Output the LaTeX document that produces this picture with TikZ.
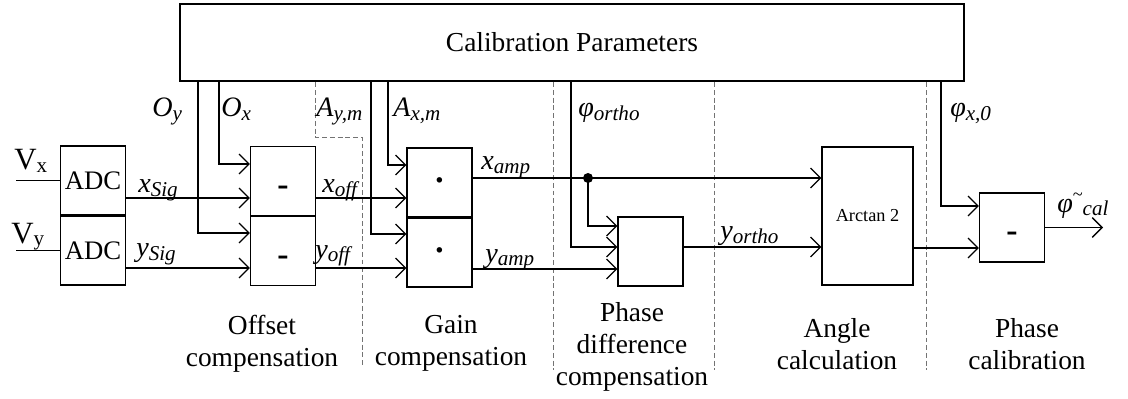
\documentclass[tikz,border=0pt]{standalone}
\usepackage{fontspec}
\setmainfont{Liberation Serif}
\usetikzlibrary{arrows.meta}
\newcommand{\sym}[2]{\textit{#1}\raisebox{-2.5pt}{\fontsize{15}{15}\selectfont\textit{#2}}}
\newcommand{\opsign}[2]{\smash{\raisebox{#1}{#2}}}

\begin{document}
\begin{tikzpicture}[x=0.025cm, y=-0.025cm, line cap=butt, line join=miter,
  blk/.style={draw, line width=1pt, minimum width=1.625cm, minimum height=1.725cm, inner sep=0pt},
  opblk/.style={blk, font=\fontsize{24}{24}\selectfont\bfseries},
  wire/.style={line width=0.9pt},
  arr/.style={wire, -{Straight Barb[length=7pt,width=14pt,line width=0.9pt]}},
  sep/.style={draw=black!55, line width=0.7pt, dash pattern=on 3.5pt off 2pt},
  lbl/.style={anchor=base west, inner sep=0pt, font=\fontsize{20}{20}\selectfont},
  stagename/.style={align=center, anchor=north, inner sep=0pt, font=\fontsize{19.5}{22.8}\selectfont}]
  \useasboundingbox (0,0) rectangle (1128,399);

  % blocks
  \node[draw, line width=1.8pt, minimum width=19.6cm, minimum height=1.925cm,
    font=\fontsize{19.5}{19.5}\selectfont] (calib) at (572,42.5) {Calibration Parameters};
  \node[blk, font=\fontsize{19}{19}\selectfont] (adcx) at (93,180.5) {ADC};
  \node[blk, font=\fontsize{19}{19}\selectfont] (adcy) at (93,250.5) {ADC};
  \node[opblk] (subx) at (283,181) {\opsign{-10pt}{-}};
  \node[opblk] (suby) at (283,251) {\opsign{-10pt}{-}};
  \node[opblk] (mulx) at (439.5,182.5) {\opsign{-6.5pt}{·}};
  \node[opblk] (muly) at (439.5,252.5) {\opsign{-6.5pt}{·}};
  \node[blk] (phase) at (650.5,251.5) {};
  \node[blk, minimum width=2.275cm, minimum height=3.45cm, font=\fontsize{13}{13}\selectfont] (atan) at (867.5,216) {Arctan 2};
  \node[opblk] (fsub) at (1012,227.5) {\opsign{-10pt}{-}};

  % stage borders
  \draw[sep] (calib.south -| 315,0) -- (315,137) -- (362,137) -- (362,365);
  \draw[sep] (calib.south -| 553,0) -- (553,370);
  \draw[sep] (calib.south -| 714,0) -- (714,370);
  \draw[sep] (calib.south -| 926,0) -- (926,370);

  % signal path
  \coordinate (vxin) at (16,180.5);
  \coordinate (vyin) at (16,250.5);
  \draw[wire] (vxin) -- (adcx.west);
  \draw[wire] (vyin) -- (adcy.west);
  \draw[arr] (adcx.east |- 0,198) -- (subx.west |- 0,198);
  \draw[arr] (adcy.east |- 0,268) -- (suby.west |- 0,268);
  \draw[arr] (calib.south -| 219,0) |- (subx.west |- 0,164);
  \draw[arr] (calib.south -| 198,0) |- (suby.west |- 0,233);
  \draw[arr] (subx.east |- 0,198) -- (mulx.west |- 0,198);
  \draw[arr] (suby.east |- 0,268) -- (muly.west |- 0,268);
  \draw[arr] (calib.south -| 388,0) |- (mulx.west |- 0,165);
  \draw[arr] (calib.south -| 371,0) |- (muly.west |- 0,234);
  \coordinate (tap) at (588,178);
  \draw[arr] (mulx.east |- tap) -- (atan.west |- tap);
  \fill (tap) circle[radius=5];
  \draw[arr] (tap) |- (phase.west |- 0,226);
  \draw[arr] (calib.south -| 571,0) |- (phase.west |- 0,247);
  \draw[arr] (muly.east |- 0,269) -- (phase.west |- 0,269);
  \draw[arr] (phase.east |- 0,247) -- (atan.west |- 0,247);
  \draw[arr] (atan.east |- 0,248) -- (fsub.west |- 0,248);
  \draw[arr] (calib.south -| 941,0) |- (fsub.west |- 0,206);
  \coordinate (out) at (1103,227.5);
  \draw[arr] (fsub.east) -- (out);

  % labels
  \node[anchor=base west, inner sep=0pt, font=\fontsize{22}{22}\selectfont] (vxl) at (14,170)
    {V\raisebox{-2pt}{\fontsize{15}{15}\selectfont x}};
  \node[anchor=base west, inner sep=0pt, font=\fontsize{22}{22}\selectfont] (vyl) at (11,243)
    {V\raisebox{-2pt}{\fontsize{15}{15}\selectfont y}};
  \node[lbl] (oyl) at (152,117) {\sym{O}{y}};
  \node[lbl] (oxl) at (221,117) {\sym{O}{x}};
  \node[lbl] (ayl) at (316,117) {\sym{A}{y,m}};
  \node[lbl] (axl) at (393,117) {\sym{A}{x,m}};
  \node[lbl] (porl) at (578,117) {\sym{φ}{ortho}};
  \node[lbl] (px0l) at (950,117) {\sym{φ}{x,0}};
  \node[lbl] (xsl) at (138,193) {\sym{x}{Sig}};
  \node[lbl] (ysl) at (136,257) {\sym{y}{Sig}};
  \node[lbl] (xol) at (322,193) {\sym{x}{off}};
  \node[lbl] (yol) at (315,258) {\sym{y}{off}};
  \node[lbl] (xal) at (481,170) {\sym{x}{amp}};
  \node[lbl] (yal) at (485,262) {\sym{y}{amp}};
  \node[lbl] (yorl) at (720,240) {\sym{y}{ortho}};
  \node[lbl] (pcal) at (1057,212) {\textit{φ}\raisebox{8pt}{\fontsize{13}{13}\selectfont\textasciitilde}\raisebox{-2.5pt}{\fontsize{15}{15}\selectfont\textit{cal}}};

  % stage names
  \node[stagename] (offcap) at (262,315) {Offset\\compensation};
  \node[stagename] (gaincap) at (451,315) {Gain\\compensation};
  \node[stagename] (phcap) at (632,302) {Phase\\difference\\compensation};
  \node[stagename] (angcap) at (837,318) {Angle\\calculation};
  \node[stagename] (calcap) at (1027,318) {Phase\\calibration};
\end{tikzpicture}
\end{document}
